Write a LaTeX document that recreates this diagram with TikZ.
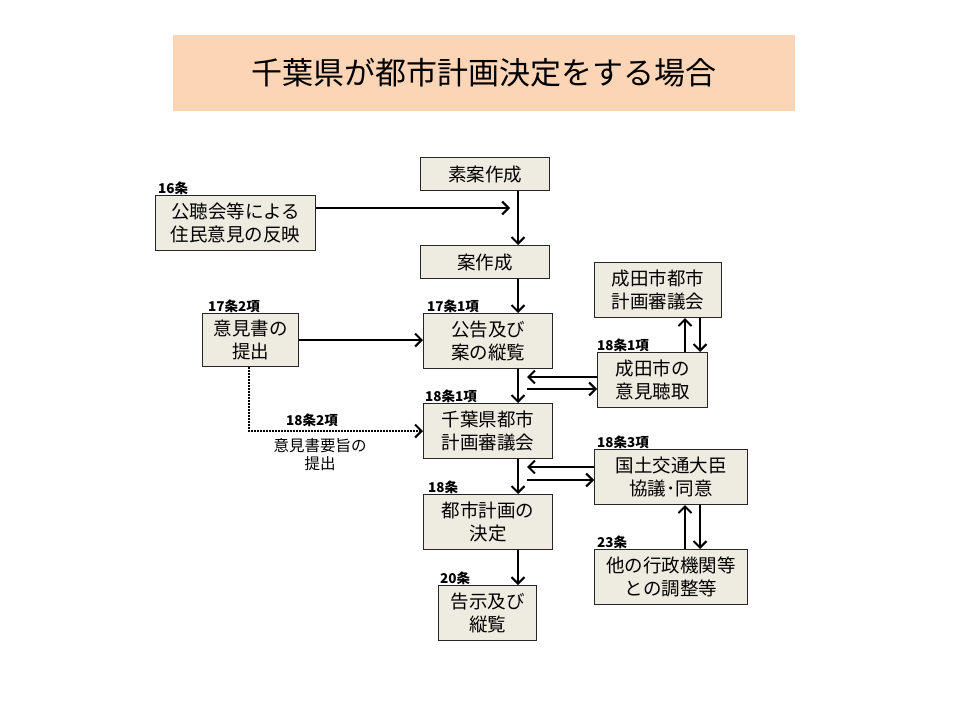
\documentclass[tikz,border=0pt]{standalone}
\usepackage{fontspec}
\newfontfamily\jp{Noto Sans CJK JP}
\usetikzlibrary{arrows.meta}
\definecolor{boxfill}{HTML}{EEECE1}
\definecolor{titlefill}{HTML}{FBD5B5}
\tikzset{
  box/.style={draw=black!85, line width=1.1pt, fill=boxfill, anchor=north west, inner sep=0pt, align=center,
    font=\jp\fontsize{18.5}{22.5}\selectfont},
  lbl/.style={anchor=base west, inner sep=0pt, font=\jp\bfseries\fontsize{13.5}{15}\selectfont},
  arr/.style={line width=2pt, -{Straight Barb[length=6.5pt,width=13pt,line width=2pt]}},
  dotarr/.style={line width=1.6pt, dash pattern=on 1.6pt off 1.4pt, -{Straight Barb[length=6.5pt,width=13pt,line width=2pt]}},
}
\newcommand{\mkbox}[6]{\node[box, minimum width=#4-#2, minimum height=#5-#3] (#1) at (#2,#3) {#6};}
\begin{document}
\begin{tikzpicture}[x=1pt,y=-1pt]
\useasboundingbox (0,0) rectangle (960,720);
% title
\node[fill=titlefill, anchor=north west, minimum width=622, minimum height=76, inner sep=0pt,
  font=\jp\fontsize{31}{34}\selectfont] (title) at (173,35) {千葉県が都市計画決定をする場合};
% boxes
\mkbox{suan}{420}{157}{549}{190}{素案作成}
\mkbox{kocho}{155}{195}{315}{250}{公聴会等による\\住民意見の反映}
\mkbox{an}{420}{245}{549}{278}{案作成}
\mkbox{nshin}{594}{262}{721}{317}{成田市都市\\計画審議会}
\mkbox{ikensho}{202}{313}{298}{366}{意見書の\\提出}
\mkbox{kokoku}{423}{313}{552}{368}{公告及び\\案の縦覧}
\mkbox{nchosyu}{597}{352}{707}{407}{成田市の\\意見聴取}
\mkbox{cshin}{423}{403}{552}{458}{千葉県都市\\計画審議会}
\mkbox{kokudo}{594}{449}{747}{504}{国土交通大臣\\協議･同意}
\mkbox{kettei}{423}{494}{552}{549}{都市計画の\\決定}
\mkbox{tagyo}{594}{549}{747}{604}{他の行政機関等\\との調整等}
\mkbox{kokuji}{438}{585}{536}{640}{告示及び\\縦覧}
% labels
\node[lbl] (l16) at (158,193) {16条};
\node[lbl] (l172) at (208,311) {17条2項};
\node[lbl] (l171) at (427,311) {17条1項};
\node[lbl] (l181a) at (597,350) {18条1項};
\node[lbl] (l181b) at (425,401) {18条1項};
\node[lbl] (l183) at (597,447) {18条3項};
\node[lbl] (l18) at (428,492) {18条};
\node[lbl] (l20) at (440,583) {20条};
\node[lbl] (l23) at (597,547) {23条};
\node[lbl] (l182) at (286,425) {18条2項};
\node[anchor=north, inner sep=0pt, align=center, font=\jp\fontsize{15.5}{18}\selectfont] (yoshi) at (320,438) {意見書要旨の\\提出};
% free ends
\coordinate (kochoend) at (510,208);
\coordinate (nc1) at (527,377);
\coordinate (nc2) at (527,389);
\coordinate (kk1) at (527,467);
\coordinate (kk2) at (527,480);
% arrows
\draw[arr] (suan.south -| 518,0) -- (an.north -| 518,0);
\draw[arr] (kocho.east |- kochoend) -- (kochoend);
\draw[arr] (an.south -| 518,0) -- (kokoku.north -| 518,0);
\draw[arr] (ikensho.east) -- (kokoku.west |- ikensho.east);
\draw[arr] (kokoku.south -| 518,0) -- (cshin.north -| 518,0);
\draw[arr] (nchosyu.west |- nc1) -- (nc1);
\draw[arr] (nc2) -- (nchosyu.west |- nc2);
\draw[arr] (nchosyu.north -| 685,0) -- (nshin.south -| 685,0);
\draw[arr] (nshin.south -| 700,0) -- (nchosyu.north -| 700,0);
\draw[dotarr] (ikensho.south -| 249,0) |- (cshin.west);
\draw[arr] (cshin.south -| 518,0) -- (kettei.north -| 518,0);
\draw[arr] (kokudo.west |- kk1) -- (kk1);
\draw[arr] (kk2) -- (kokudo.west |- kk2);
\draw[arr] (tagyo.north -| 685,0) -- (kokudo.south -| 685,0);
\draw[arr] (kokudo.south -| 700,0) -- (tagyo.north -| 700,0);
\draw[arr] (kettei.south -| 518,0) -- (kokuji.north -| 518,0);
\end{tikzpicture}
\end{document}
